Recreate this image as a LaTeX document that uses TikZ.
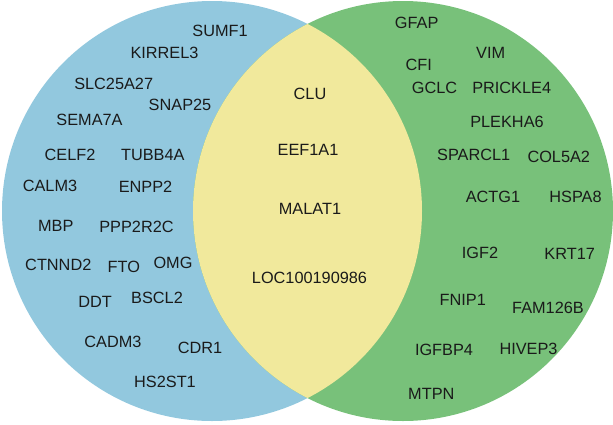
\documentclass[tikz,border=0pt]{standalone}
\usepackage{fontspec}
\setmainfont{Liberation Sans}
\definecolor{setA}{RGB}{146,200,222}
\definecolor{setB}{RGB}{120,193,122}
\definecolor{setAB}{RGB}{241,233,156}
\definecolor{gtext}{RGB}{26,26,26}
\begin{document}
\begin{tikzpicture}[x=1pt,y=-1pt,
  gene/.style={inner sep=0pt,text=gtext,font=\fontsize{16.3}{19}\selectfont}]
\useasboundingbox (0,0) rectangle (613,424);
\fill[setA] (212,211) circle[radius=210];
\fill[setB] (403,211) circle[radius=210];
\begin{scope}
  \clip (212,211) circle[radius=210];
  \fill[setAB] (403,211) circle[radius=210];
\end{scope}
% left only
\node[gene] (g1) at (220,30.5) {SUMF1};
\node[gene] (g2) at (164.5,52.5) {KIRREL3};
\node[gene] (g3) at (113.7,84) {SLC25A27};
\node[gene] (g4) at (180,105) {SNAP25};
\node[gene] (g5) at (89.5,120) {SEMA7A};
\node[gene] (g6) at (70,155) {CELF2};
\node[gene] (g7) at (152.8,155) {TUBB4A};
\node[gene] (g8) at (50,185.5) {CALM3};
\node[gene] (g9) at (145.5,187) {ENPP2};
\node[gene] (g10) at (55.8,226.3) {MBP};
\node[gene] (g11) at (136.5,226.7) {PPP2R2C};
\node[gene] (g12) at (58.3,265) {CTNND2};
\node[gene] (g13) at (123.8,267) {FTO};
\node[gene] (g14) at (173,263) {OMG};
\node[gene] (g15) at (95,301.7) {DDT};
\node[gene] (g16) at (157,298) {BSCL2};
\node[gene] (g17) at (113,342) {CADM3};
\node[gene] (g18) at (200,348) {CDR1};
\node[gene] (g19) at (165,382) {HS2ST1};
% both
\node[gene] (c1) at (310,93.5) {CLU};
\node[gene] (c2) at (308,149.5) {EEF1A1};
\node[gene] (c3) at (310,209) {MALAT1};
\node[gene] (c4) at (309.5,278) {LOC100190986};
% right only
\node[gene] (r1) at (416.7,22.7) {GFAP};
\node[gene] (r2) at (490.7,53.3) {VIM};
\node[gene] (r3) at (418.7,65) {CFI};
\node[gene] (r4) at (434.5,88.3) {GCLC};
\node[gene] (r5) at (511.7,88.3) {PRICKLE4};
\node[gene] (r6) at (507,121.7) {PLEKHA6};
\node[gene] (r7) at (473.7,155) {SPARCL1};
\node[gene] (r8) at (558.8,157) {COL5A2};
\node[gene] (r9) at (493,196.7) {ACTG1};
\node[gene] (r10) at (575.5,196.7) {HSPA8};
\node[gene] (r11) at (480,253.3) {IGF2};
\node[gene] (r12) at (569.7,254) {KRT17};
\node[gene] (r13) at (462.8,300) {FNIP1};
\node[gene] (r14) at (548,308.3) {FAM126B};
\node[gene] (r15) at (444,350.3) {IGFBP4};
\node[gene] (r16) at (528.5,349.3) {HIVEP3};
\node[gene] (r17) at (431.3,393.7) {MTPN};
\end{tikzpicture}
\end{document}
